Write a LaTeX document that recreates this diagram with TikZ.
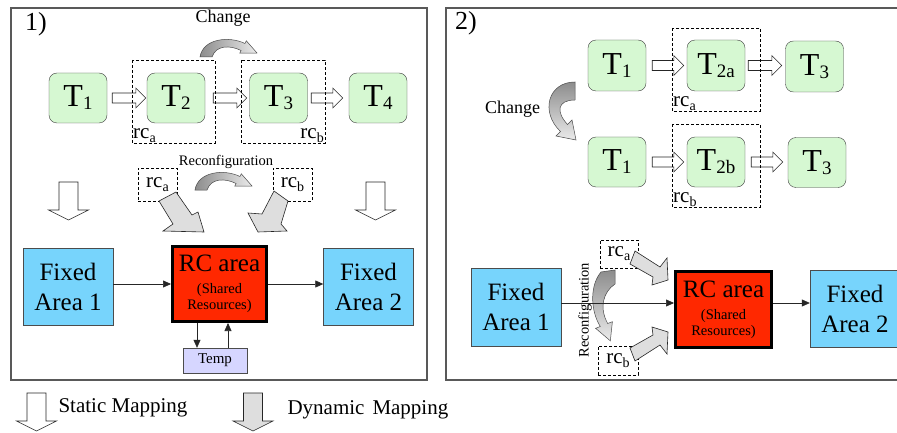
\documentclass[tikz,border=0pt]{standalone}
\usepackage{fontspec}
\setmainfont{Liberation Serif}
\usetikzlibrary{calc,arrows.meta}
\definecolor{taskgreen}{HTML}{D6F8D2}
\definecolor{fixblue}{HTML}{77D4FC}
\definecolor{rcred}{HTML}{FF2800}
\definecolor{templilac}{HTML}{D6D6FF}
\definecolor{dyngray}{HTML}{DEDEDE}
\newcommand{\tlabel}[1]{T\raisebox{-3pt}{\fontsize{19}{19}\selectfont #1}}
\newcommand{\rclabel}[1]{rc\raisebox{-4pt}{\fontsize{14}{14}\selectfont #1}}
\newcommand{\rctext}{\raisebox{-3.5pt}{\parbox{92pt}{\centering
  \fontsize{25}{25}\selectfont RC area\par\vspace{6pt}
  \fontsize{14.5}{16}\selectfont (Shared\\Resources)\par}}}
\newcommand{\blockarrow}[3]{%
  \path[#1] let \p1=#2, \p2=#3 in
    (\x1,\y1+5pt) -- (\x2-10pt,\y1+5pt) -- (\x2-10pt,\y1+10pt) -- (\x2,\y1)
    -- (\x2-10pt,\y1-10pt) -- (\x2-10pt,\y1-5pt) -- (\x1,\y1-5pt) -- cycle;}
\newcommand{\maparrow}[3]{\draw[#1, shift={#2}] (-9.5,0) -- (-9.5,#3) -- (-20,#3) -- (0,#3+10) -- (20,#3) -- (9.5,#3) -- (9.5,0) -- cycle;}
\tikzset{
  task/.style={draw=black!75, fill=taskgreen, rounded corners=8pt, minimum width=58pt, minimum height=50pt, inner sep=0pt, font=\fontsize{32}{32}\selectfont},
  fixed/.style={draw=black!70, fill=fixblue, minimum width=90pt, minimum height=77pt, inner sep=0pt, align=center, font=\fontsize{25}{30}\selectfont},
  rcarea/.style={draw=black, line width=3pt, fill=rcred, minimum width=94pt, minimum height=75pt, inner sep=0pt},
  tempbox/.style={draw=black!70, fill=templilac, minimum width=64pt, minimum height=25pt, inner sep=0pt, font=\fontsize{15}{15}\selectfont},
  rcdash/.style={draw=black, dash pattern=on 3pt off 2pt, line width=0.6pt},
  rcsmall/.style={rcdash, inner sep=0pt, font=\fontsize{21}{21}\selectfont},
  hollow/.style={draw=black!85, fill=white, line width=0.6pt},
  dynamic/.style={draw=black!85, fill=dyngray, line width=0.6pt},
  swing/.style={draw=black!70, line width=0.5pt},
  flow/.style={-{Triangle[length=8pt,width=7pt]}, line width=0.6pt, draw=black!85},
  panel/.style={draw=black!65, line width=1.2pt}
}
\begin{document}
\begin{tikzpicture}[x=1pt,y=-1pt]
\useasboundingbox (0,0) rectangle (897,433);
\clip (0,0) rectangle (897,433);
\fill[white] (0,0) rectangle (897,433);

% panel 1
\draw[panel] (11,8) rectangle (427,380);
\node[font=\fontsize{26}{26}\selectfont] (one) at (36,24) {1)};
\node[font=\fontsize{18}{18}\selectfont] (chg) at (223,18) {Change};
\node[task] (t1) at (78,98) {\tlabel{1}};
\node[task] (t2) at (176,98) {\tlabel{2}};
\node[task] (t3) at (278.5,98) {\tlabel{3}};
\node[task] (t4) at (378,98) {\tlabel{4}};
\blockarrow{hollow}{($(t1.east)+(5,0)$)}{($(t2.west)+(-1,0)$)}
\blockarrow{hollow}{($(t2.east)+(8,0)$)}{($(t3.west)+(-2.5,0)$)}
\blockarrow{hollow}{($(t3.east)+(3.5,0)$)}{($(t4.west)+(-6,0)$)}
\draw[rcdash] (132,60) rectangle (215,143);
\node[anchor=south west, inner sep=1pt, font=\fontsize{21}{21}\selectfont] (rcalab) at (132,144) {\rclabel{a}};
\draw[rcdash] (241,60) rectangle (325,143);
\node[anchor=south east, inner sep=1pt, font=\fontsize{21}{21}\selectfont] (rcblab) at (325,144) {\rclabel{b}};
\draw[swing, left color=black!45, right color=black!8] (200,57) .. controls (203,38) and (230,36) .. (244.9,43.5) -- (246.3,40.8) -- (257,53) -- (239.7,53.2) -- (241.1,50.5) .. controls (230,45) and (216,45) .. (212,57) -- cycle;

\node[font=\fontsize{14.5}{14.5}\selectfont] (recfg) at (226,162) {Reconfiguration};
\draw[swing, left color=black!45, right color=black!8, shift={(-5,133)}] (200,57) .. controls (203,38) and (230,36) .. (244.9,43.5) -- (246.3,40.8) -- (257,53) -- (239.7,53.2) -- (241.1,50.5) .. controls (230,45) and (216,45) .. (212,57) -- cycle;
\node[rcsmall, minimum width=39pt, minimum height=33pt] (rcas) at (157.5,184.5) {\rclabel{a}};
\node[rcsmall, minimum width=39pt, minimum height=33pt] (rcbs) at (292.5,184.5) {\rclabel{b}};
\draw[dynamic] (176,192) -- (192,215) -- (198,212) -- (204,232) -- (163,231) -- (173,224) -- (159,201) -- cycle;
\draw[dynamic] (274,191) -- (262,214) -- (248,213) -- (258,232) -- (287,231) -- (281,224) -- (288,201) -- cycle;
\maparrow{hollow}{(68.5,182)}{28}
\maparrow{hollow}{(375.5,182)}{28}

\node[fixed] (fa1) at (68,286.5) {Fixed\\Area 1};
\node[rcarea] (rc1) at (219.5,284) {\rctext};
\node[fixed] (fa2) at (368.5,286.5) {Fixed\\Area 2};
\node[tempbox] (temp) at (215,360.5) {Temp};
\draw[flow] ([yshift=2.5pt]fa1.east) -- (rc1.west);
\draw[flow] (rc1.east) -- ([yshift=2.5pt]fa2.west);
\draw[flow] ([xshift=-22.5pt]rc1.south) -- ([xshift=-22.5pt]rc1.south |- temp.north);
\draw[flow] ([xshift=8.5pt]rc1.south |- temp.north) -- ([xshift=8.5pt]rc1.south);

% panel 2
\draw[panel] (446,8) rectangle (910,380);
\node[font=\fontsize{26}{26}\selectfont] (two) at (466,23) {2)};
\node[task, minimum height=51pt] (u1) at (617,65.5) {\tlabel{1}};
\node[task, minimum height=51pt] (u2) at (716,65.5) {\tlabel{2a}};
\node[task, minimum height=51pt] (u3) at (814.5,66.5) {\tlabel{3}};
\node[task] (l1) at (617,162) {\tlabel{1}};
\node[task] (l2) at (716,162) {\tlabel{2b}};
\node[task] (l3) at (817,162.5) {\tlabel{3}};
\blockarrow{hollow}{($(u1.east)+(6,0)$)}{($(u2.west)+(-3,0)$)}
\blockarrow{hollow}{($(u2.east)+(3,0)$)}{($(u3.west)+(-3.5,0)$)}
\blockarrow{hollow}{($(l1.east)+(6,0)$)}{($(l2.west)+(-3,0)$)}
\blockarrow{hollow}{($(l2.east)+(6,0)$)}{($(l3.west)+(-5,0)$)}
\draw[rcdash] (672,28) rectangle (760,111);
\node[anchor=south west, inner sep=1pt, font=\fontsize{21}{21}\selectfont] (rcalab2) at (672,112) {\rclabel{a}};
\draw[rcdash] (672,124) rectangle (760,207);
\node[anchor=south west, inner sep=1pt, font=\fontsize{21}{21}\selectfont] (rcblab2) at (672,208) {\rclabel{b}};
\node[font=\fontsize{18}{18}\selectfont] (chg2) at (512.5,109) {Change};
\draw[swing, top color=black!45, bottom color=black!8] (575,82) .. controls (548,82) and (540,112) .. (560.5,131.5) -- (556,136) -- (576,140) -- (572,120) -- (567.5,124.5) .. controls (556,112) and (557,100) .. (575,100) -- cycle;

\node[fixed, minimum height=78pt] (fb1) at (516,307) {Fixed\\Area 1};
\node[rcarea, minimum width=96pt, minimum height=76pt] (rc2) at (723.5,309.5) {\rctext};
\node[fixed] (fb2) at (855,308.5) {Fixed\\Area 2};
\node[rcsmall, minimum width=38pt, minimum height=28pt] (rcas2) at (619,254) {\rclabel{a}};
\node[rcsmall, minimum width=40pt, minimum height=29pt] (rcbs2) at (618,360.5) {\rclabel{b}};
\node[rotate=90, font=\fontsize{14.5}{14.5}\selectfont] (recfg2) at (585,310) {Reconfiguration};
\draw[swing, top color=black!45, bottom color=black!8] (601,272) -- (615,270) -- (615,284) .. controls (603,292) and (599,308) .. (607.7,323.5) -- (612.4,321.7) -- (610.3,340.8) -- (595.6,328.3) -- (600.3,326.5) .. controls (590,310) and (590,285) .. (601,272) -- cycle;
\draw[dynamic] (635,251) -- (660,267) -- (667,258) -- (668,280) -- (652,285) -- (653,277) -- (630,264) -- cycle;
\draw[dynamic] (635,361) -- (660,345) -- (667,354) -- (668,332) -- (652,327) -- (653,335) -- (630,348) -- cycle;
\draw[flow] ([yshift=4pt]fb1.east) -- ([yshift=4pt]fb1.east -| rc2.west);
\draw[flow] ([yshift=6.5pt]rc2.east) -- ([yshift=6.5pt]rc2.east -| fb2.west);

% legend
\maparrow{hollow}{(36.5,393)}{28}
\node[anchor=west, font=\fontsize{21}{21}\selectfont] (stat) at (55,408) {Static Mapping};
\maparrow{dynamic}{(253,393)}{28}
\node[anchor=west, font=\fontsize{21}{21}\selectfont] (dyn) at (284,410) {Dynamic\hspace{8pt}Mapping};
\end{tikzpicture}
\end{document}
